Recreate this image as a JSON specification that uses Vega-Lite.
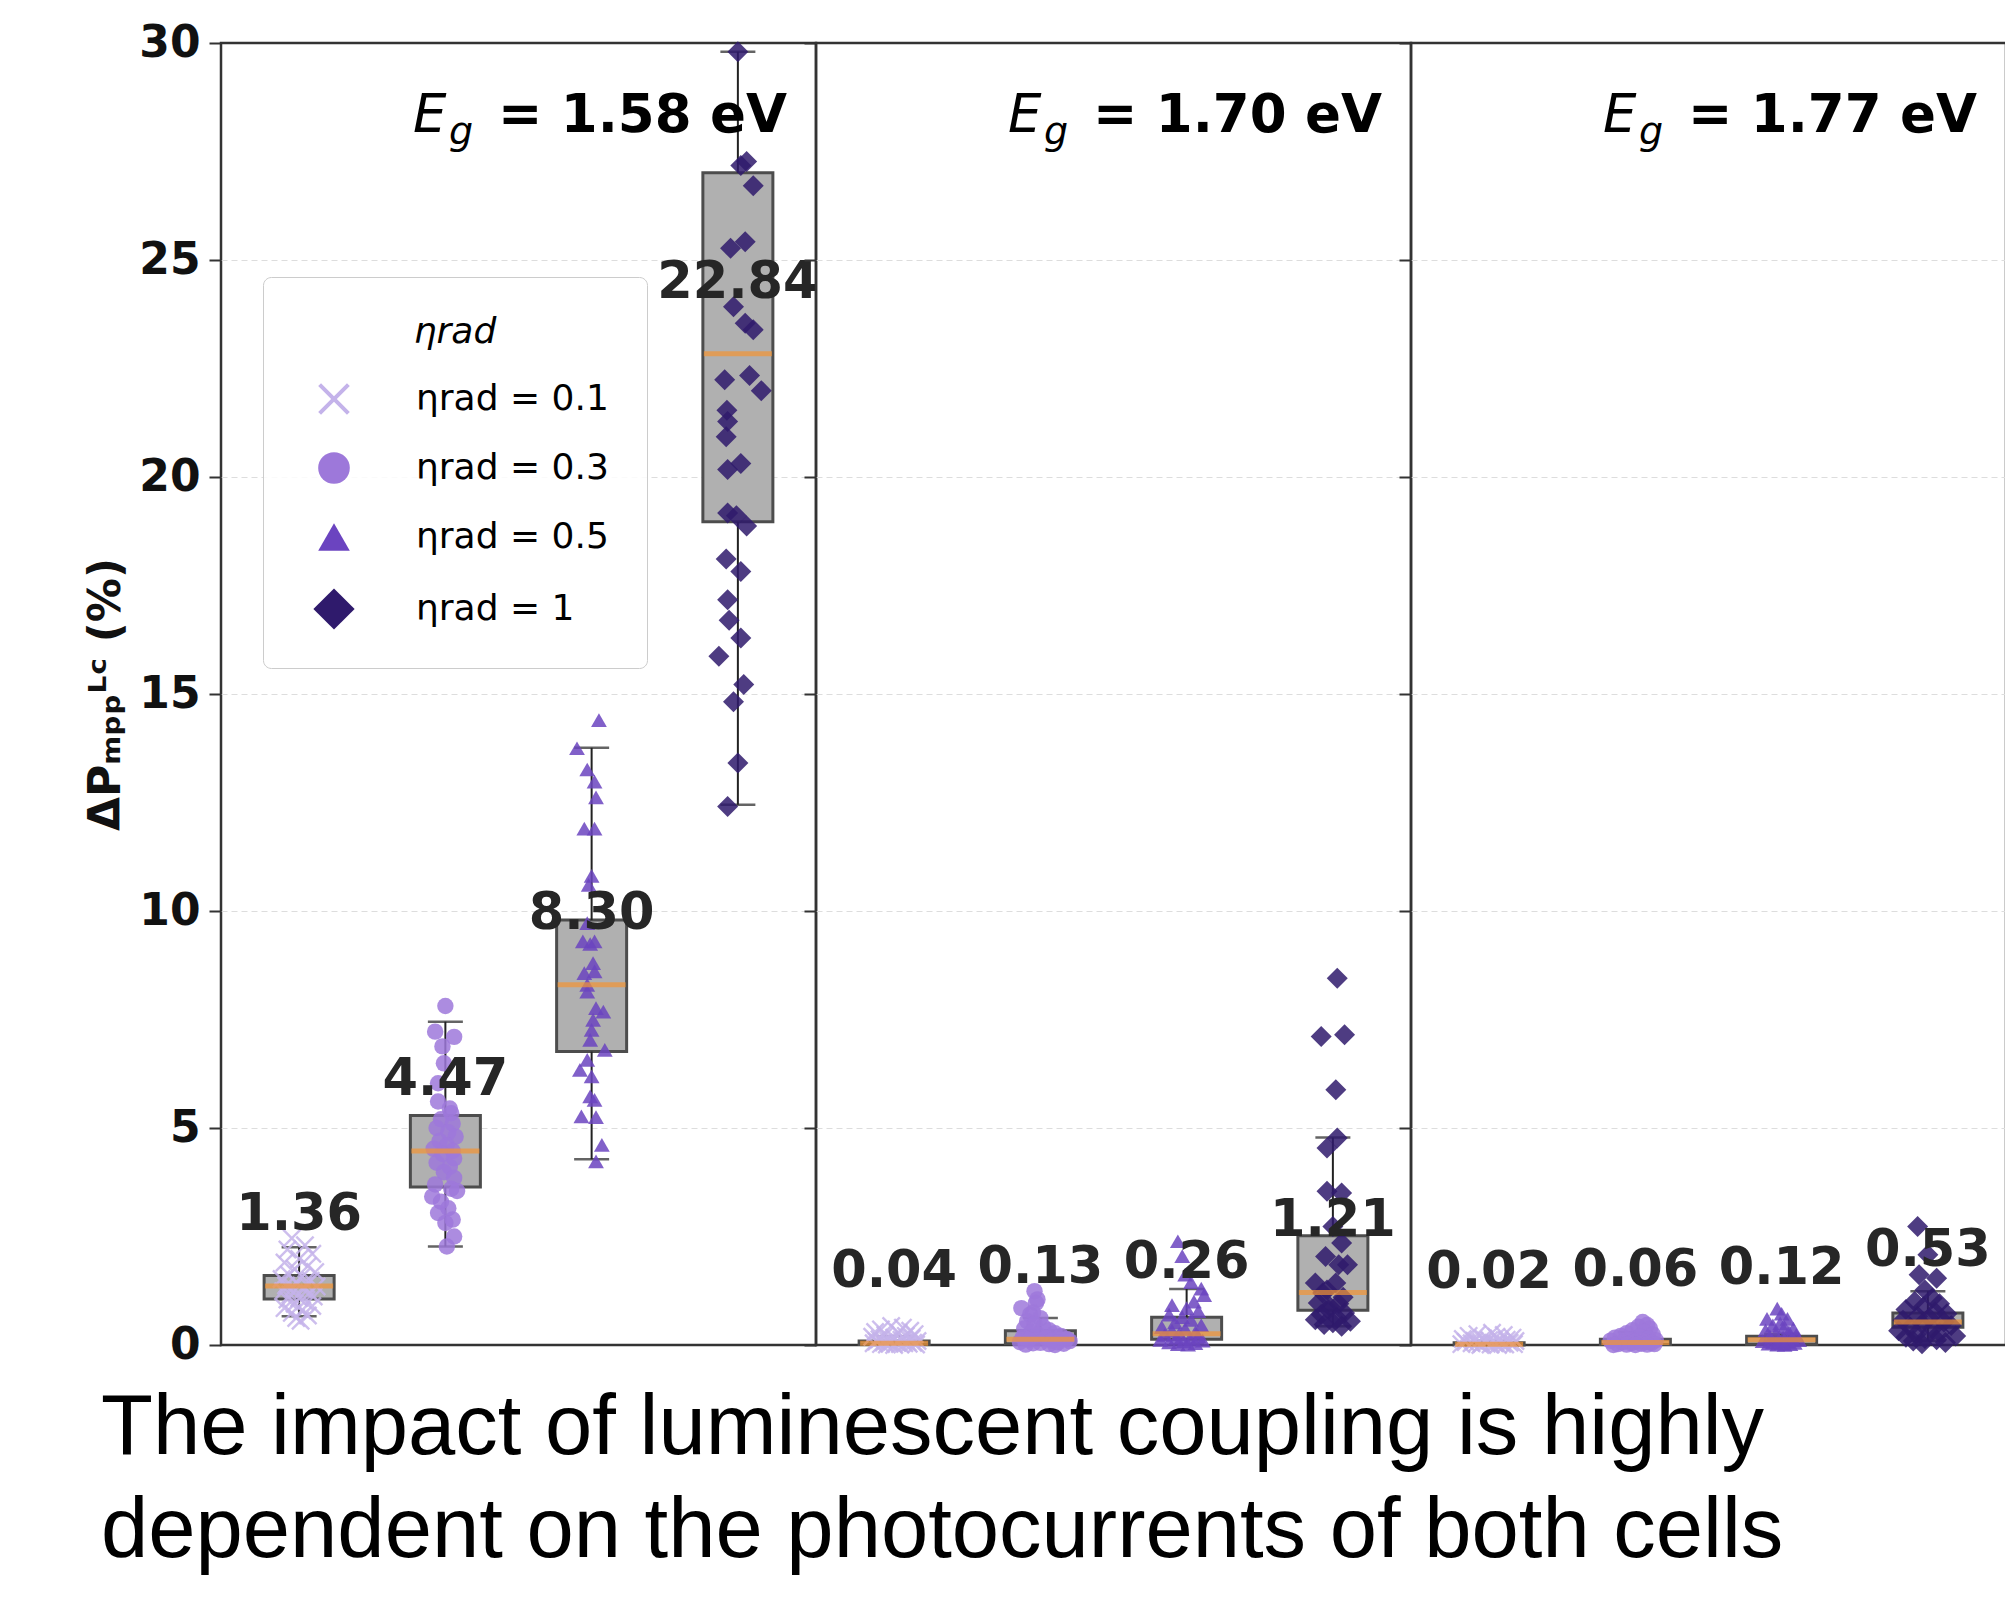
{
  "$schema": "https://vega.github.io/schema/vega-lite/v6.json",
  "background": "white",
  "padding": {"left": 83, "top": 19, "right": 0, "bottom": 0},
  "bounds": "flush",
  "spacing": 0,
  "title": {
    "text": ["The impact of luminescent coupling is highly", "dependent on the photocurrents of both cells"],
    "orient": "bottom", "anchor": "start", "frame": "group",
    "font": "Liberation Sans", "fontSize": 85, "fontWeight": "normal", "color": "#000000",
    "lineHeight": 103, "dx": -120, "offset": 19, "baseline": "top"
  },
  "datasets": {
    "panels": [
      {"Eg": "1.58", "txt": "= 1.58 eV"},
      {"Eg": "1.70", "txt": "= 1.70 eV"},
      {"Eg": "1.77", "txt": "= 1.77 eV"}
    ],
    "boxes": [
      {"Eg": "1.58", "idx": 0, "lo": 0.66, "q1": 1.06, "med": 1.36, "q3": 1.60, "hi": 2.25},
      {"Eg": "1.58", "idx": 1, "lo": 2.27, "q1": 3.64, "med": 4.47, "q3": 5.29, "hi": 7.45},
      {"Eg": "1.58", "idx": 2, "lo": 4.28, "q1": 6.76, "med": 8.30, "q3": 9.79, "hi": 13.76},
      {"Eg": "1.58", "idx": 3, "lo": 12.45, "q1": 18.97, "med": 22.84, "q3": 27.01, "hi": 29.8},
      {"Eg": "1.70", "idx": 0, "lo": 0.0, "q1": 0.01, "med": 0.04, "q3": 0.09, "hi": 0.2},
      {"Eg": "1.70", "idx": 1, "lo": 0.0, "q1": 0.03, "med": 0.13, "q3": 0.33, "hi": 0.62},
      {"Eg": "1.70", "idx": 2, "lo": 0.01, "q1": 0.13, "med": 0.26, "q3": 0.64, "hi": 1.29},
      {"Eg": "1.70", "idx": 3, "lo": 0.43, "q1": 0.80, "med": 1.21, "q3": 2.52, "hi": 4.78},
      {"Eg": "1.77", "idx": 0, "lo": 0.0, "q1": 0.0, "med": 0.02, "q3": 0.05, "hi": 0.1},
      {"Eg": "1.77", "idx": 1, "lo": 0.0, "q1": 0.01, "med": 0.06, "q3": 0.13, "hi": 0.3},
      {"Eg": "1.77", "idx": 2, "lo": 0.0, "q1": 0.02, "med": 0.12, "q3": 0.2, "hi": 0.26},
      {"Eg": "1.77", "idx": 3, "lo": 0.1, "q1": 0.41, "med": 0.53, "q3": 0.74, "hi": 1.24}
    ],
    "pts": [
      {"Eg":"1.58","eta":"0.1","pos":-0.05,"val":2.46},{"Eg":"1.58","eta":"0.1","pos":0.04,"val":2.30},{"Eg":"1.58","eta":"0.1","pos":-0.08,"val":2.20},{"Eg":"1.58","eta":"0.1","pos":0.09,"val":2.10},{"Eg":"1.58","eta":"0.1","pos":0.0,"val":1.98},{"Eg":"1.58","eta":"0.1","pos":-0.10,"val":1.90},{"Eg":"1.58","eta":"0.1","pos":0.06,"val":1.82},{"Eg":"1.58","eta":"0.1","pos":-0.03,"val":1.75},{"Eg":"1.58","eta":"0.1","pos":0.11,"val":1.68},{"Eg":"1.58","eta":"0.1","pos":-0.07,"val":1.62},{"Eg":"1.58","eta":"0.1","pos":0.02,"val":1.58},{"Eg":"1.58","eta":"0.1","pos":-0.12,"val":1.52},{"Eg":"1.58","eta":"0.1","pos":0.08,"val":1.48},{"Eg":"1.58","eta":"0.1","pos":-0.02,"val":1.44},{"Eg":"1.58","eta":"0.1","pos":0.05,"val":1.40},{"Eg":"1.58","eta":"0.1","pos":-0.09,"val":1.37},{"Eg":"1.58","eta":"0.1","pos":0.12,"val":1.35},{"Eg":"1.58","eta":"0.1","pos":-0.04,"val":1.32},{"Eg":"1.58","eta":"0.1","pos":0.03,"val":1.28},{"Eg":"1.58","eta":"0.1","pos":-0.11,"val":1.24},{"Eg":"1.58","eta":"0.1","pos":0.07,"val":1.20},{"Eg":"1.58","eta":"0.1","pos":-0.06,"val":1.16},{"Eg":"1.58","eta":"0.1","pos":0.10,"val":1.12},{"Eg":"1.58","eta":"0.1","pos":0.0,"val":1.08},{"Eg":"1.58","eta":"0.1","pos":-0.08,"val":1.05},{"Eg":"1.58","eta":"0.1","pos":0.04,"val":1.00},{"Eg":"1.58","eta":"0.1","pos":-0.03,"val":0.95},{"Eg":"1.58","eta":"0.1","pos":0.09,"val":0.90},{"Eg":"1.58","eta":"0.1","pos":-0.10,"val":0.85},{"Eg":"1.58","eta":"0.1","pos":0.02,"val":0.80},{"Eg":"1.58","eta":"0.1","pos":-0.05,"val":0.74},{"Eg":"1.58","eta":"0.1","pos":0.06,"val":0.68},{"Eg":"1.58","eta":"0.1","pos":-0.02,"val":0.62},{"Eg":"1.58","eta":"0.1","pos":0.01,"val":0.56},
      {"Eg":"1.58","eta":"0.3","pos":1.0,"val":7.81},{"Eg":"1.58","eta":"0.3","pos":0.93,"val":7.22},{"Eg":"1.58","eta":"0.3","pos":1.06,"val":7.10},{"Eg":"1.58","eta":"0.3","pos":0.98,"val":6.88},{"Eg":"1.58","eta":"0.3","pos":0.99,"val":6.49},{"Eg":"1.58","eta":"0.3","pos":0.95,"val":6.03},{"Eg":"1.58","eta":"0.3","pos":0.95,"val":5.61},{"Eg":"1.58","eta":"0.3","pos":1.03,"val":5.45},{"Eg":"1.58","eta":"0.3","pos":1.04,"val":5.34},{"Eg":"1.58","eta":"0.3","pos":0.97,"val":5.20},{"Eg":"1.58","eta":"0.3","pos":1.05,"val":5.10},{"Eg":"1.58","eta":"0.3","pos":0.94,"val":5.00},{"Eg":"1.58","eta":"0.3","pos":1.02,"val":4.90},{"Eg":"1.58","eta":"0.3","pos":1.07,"val":4.80},{"Eg":"1.58","eta":"0.3","pos":0.96,"val":4.70},{"Eg":"1.58","eta":"0.3","pos":1.01,"val":4.60},{"Eg":"1.58","eta":"0.3","pos":0.92,"val":4.52},{"Eg":"1.58","eta":"0.3","pos":1.05,"val":4.47},{"Eg":"1.58","eta":"0.3","pos":0.98,"val":4.40},{"Eg":"1.58","eta":"0.3","pos":1.06,"val":4.30},{"Eg":"1.58","eta":"0.3","pos":0.94,"val":4.20},{"Eg":"1.58","eta":"0.3","pos":1.03,"val":4.10},{"Eg":"1.58","eta":"0.3","pos":0.99,"val":3.98},{"Eg":"1.58","eta":"0.3","pos":1.06,"val":3.85},{"Eg":"1.58","eta":"0.3","pos":0.93,"val":3.70},{"Eg":"1.58","eta":"0.3","pos":1.04,"val":3.60},{"Eg":"1.58","eta":"0.3","pos":1.08,"val":3.55},{"Eg":"1.58","eta":"0.3","pos":0.91,"val":3.42},{"Eg":"1.58","eta":"0.3","pos":0.97,"val":3.30},{"Eg":"1.58","eta":"0.3","pos":1.02,"val":3.15},{"Eg":"1.58","eta":"0.3","pos":0.95,"val":3.04},{"Eg":"1.58","eta":"0.3","pos":1.05,"val":2.89},{"Eg":"1.58","eta":"0.3","pos":1.0,"val":2.81},{"Eg":"1.58","eta":"0.3","pos":1.06,"val":2.50},{"Eg":"1.58","eta":"0.3","pos":1.01,"val":2.27},
      {"Eg":"1.58","eta":"0.5","pos":2.05,"val":14.40},{"Eg":"1.58","eta":"0.5","pos":1.90,"val":13.75},{"Eg":"1.58","eta":"0.5","pos":1.97,"val":13.26},{"Eg":"1.58","eta":"0.5","pos":2.02,"val":12.98},{"Eg":"1.58","eta":"0.5","pos":2.03,"val":12.62},{"Eg":"1.58","eta":"0.5","pos":1.95,"val":11.90},{"Eg":"1.58","eta":"0.5","pos":2.02,"val":11.90},{"Eg":"1.58","eta":"0.5","pos":2.0,"val":10.81},{"Eg":"1.58","eta":"0.5","pos":1.98,"val":10.60},{"Eg":"1.58","eta":"0.5","pos":1.97,"val":9.72},{"Eg":"1.58","eta":"0.5","pos":1.94,"val":9.30},{"Eg":"1.58","eta":"0.5","pos":2.02,"val":9.30},{"Eg":"1.58","eta":"0.5","pos":1.99,"val":9.24},{"Eg":"1.58","eta":"0.5","pos":2.01,"val":8.80},{"Eg":"1.58","eta":"0.5","pos":1.95,"val":8.57},{"Eg":"1.58","eta":"0.5","pos":2.02,"val":8.61},{"Eg":"1.58","eta":"0.5","pos":1.97,"val":8.30},{"Eg":"1.58","eta":"0.5","pos":1.97,"val":8.14},{"Eg":"1.58","eta":"0.5","pos":2.03,"val":7.76},{"Eg":"1.58","eta":"0.5","pos":2.08,"val":7.68},{"Eg":"1.58","eta":"0.5","pos":2.01,"val":7.49},{"Eg":"1.58","eta":"0.5","pos":2.0,"val":7.26},{"Eg":"1.58","eta":"0.5","pos":1.99,"val":7.03},{"Eg":"1.58","eta":"0.5","pos":2.09,"val":6.80},{"Eg":"1.58","eta":"0.5","pos":1.97,"val":6.57},{"Eg":"1.58","eta":"0.5","pos":1.92,"val":6.34},{"Eg":"1.58","eta":"0.5","pos":2.0,"val":6.19},{"Eg":"1.58","eta":"0.5","pos":1.99,"val":5.73},{"Eg":"1.58","eta":"0.5","pos":2.02,"val":5.65},{"Eg":"1.58","eta":"0.5","pos":1.93,"val":5.27},{"Eg":"1.58","eta":"0.5","pos":2.03,"val":5.25},{"Eg":"1.58","eta":"0.5","pos":2.07,"val":4.61},{"Eg":"1.58","eta":"0.5","pos":2.03,"val":4.23},
      {"Eg":"1.58","eta":"1","pos":3.0,"val":29.8},{"Eg":"1.58","eta":"1","pos":3.02,"val":27.18},{"Eg":"1.58","eta":"1","pos":3.06,"val":27.27},{"Eg":"1.58","eta":"1","pos":3.105,"val":26.71},{"Eg":"1.58","eta":"1","pos":2.95,"val":25.27},{"Eg":"1.58","eta":"1","pos":3.05,"val":25.42},{"Eg":"1.58","eta":"1","pos":2.97,"val":23.92},{"Eg":"1.58","eta":"1","pos":3.05,"val":23.54},{"Eg":"1.58","eta":"1","pos":3.105,"val":23.39},{"Eg":"1.58","eta":"1","pos":2.91,"val":22.24},{"Eg":"1.58","eta":"1","pos":3.08,"val":22.34},{"Eg":"1.58","eta":"1","pos":3.16,"val":21.99},{"Eg":"1.58","eta":"1","pos":2.925,"val":21.54},{"Eg":"1.58","eta":"1","pos":2.93,"val":21.28},{"Eg":"1.58","eta":"1","pos":2.92,"val":20.93},{"Eg":"1.58","eta":"1","pos":2.93,"val":20.17},{"Eg":"1.58","eta":"1","pos":3.02,"val":20.31},{"Eg":"1.58","eta":"1","pos":2.93,"val":19.17},{"Eg":"1.58","eta":"1","pos":2.99,"val":19.11},{"Eg":"1.58","eta":"1","pos":3.06,"val":18.87},{"Eg":"1.58","eta":"1","pos":2.92,"val":18.11},{"Eg":"1.58","eta":"1","pos":3.02,"val":17.82},{"Eg":"1.58","eta":"1","pos":2.93,"val":17.17},{"Eg":"1.58","eta":"1","pos":2.94,"val":16.70},{"Eg":"1.58","eta":"1","pos":3.02,"val":16.29},{"Eg":"1.58","eta":"1","pos":2.87,"val":15.87},{"Eg":"1.58","eta":"1","pos":3.04,"val":15.22},{"Eg":"1.58","eta":"1","pos":2.97,"val":14.82},{"Eg":"1.58","eta":"1","pos":3.0,"val":13.41},{"Eg":"1.58","eta":"1","pos":2.93,"val":12.41},
      {"Eg":"1.70","eta":"0.1","pos":-0.02,"val":0.44},{"Eg":"1.70","eta":"0.1","pos":0.06,"val":0.40},{"Eg":"1.70","eta":"0.1","pos":-0.09,"val":0.36},{"Eg":"1.70","eta":"0.1","pos":0.11,"val":0.33},{"Eg":"1.70","eta":"0.1","pos":-0.13,"val":0.30},{"Eg":"1.70","eta":"0.1","pos":0.03,"val":0.28},{"Eg":"1.70","eta":"0.1","pos":0.14,"val":0.25},{"Eg":"1.70","eta":"0.1","pos":-0.06,"val":0.23},{"Eg":"1.70","eta":"0.1","pos":0.08,"val":0.21},{"Eg":"1.70","eta":"0.1","pos":-0.15,"val":0.19},{"Eg":"1.70","eta":"0.1","pos":0.0,"val":0.17},{"Eg":"1.70","eta":"0.1","pos":0.12,"val":0.15},{"Eg":"1.70","eta":"0.1","pos":-0.10,"val":0.13},{"Eg":"1.70","eta":"0.1","pos":0.05,"val":0.12},{"Eg":"1.70","eta":"0.1","pos":-0.04,"val":0.10},{"Eg":"1.70","eta":"0.1","pos":0.16,"val":0.09},{"Eg":"1.70","eta":"0.1","pos":-0.12,"val":0.08},{"Eg":"1.70","eta":"0.1","pos":0.09,"val":0.07},{"Eg":"1.70","eta":"0.1","pos":-0.07,"val":0.06},{"Eg":"1.70","eta":"0.1","pos":0.02,"val":0.05},{"Eg":"1.70","eta":"0.1","pos":0.13,"val":0.05},{"Eg":"1.70","eta":"0.1","pos":-0.14,"val":0.04},{"Eg":"1.70","eta":"0.1","pos":0.07,"val":0.04},{"Eg":"1.70","eta":"0.1","pos":-0.03,"val":0.03},{"Eg":"1.70","eta":"0.1","pos":0.10,"val":0.03},{"Eg":"1.70","eta":"0.1","pos":-0.09,"val":0.02},{"Eg":"1.70","eta":"0.1","pos":0.04,"val":0.02},{"Eg":"1.70","eta":"0.1","pos":-0.05,"val":0.01},{"Eg":"1.70","eta":"0.1","pos":0.15,"val":0.01},{"Eg":"1.70","eta":"0.1","pos":0.0,"val":0.0},
      {"Eg":"1.70","eta":"0.3","pos":0.96,"val":1.24},{"Eg":"1.70","eta":"0.3","pos":0.98,"val":1.05},{"Eg":"1.70","eta":"0.3","pos":0.97,"val":0.97},{"Eg":"1.70","eta":"0.3","pos":0.87,"val":0.85},{"Eg":"1.70","eta":"0.3","pos":0.95,"val":0.75},{"Eg":"1.70","eta":"0.3","pos":0.93,"val":0.70},{"Eg":"1.70","eta":"0.3","pos":1.0,"val":0.62},{"Eg":"1.70","eta":"0.3","pos":0.91,"val":0.55},{"Eg":"1.70","eta":"0.3","pos":0.96,"val":0.48},{"Eg":"1.70","eta":"0.3","pos":1.02,"val":0.42},{"Eg":"1.70","eta":"0.3","pos":0.89,"val":0.38},{"Eg":"1.70","eta":"0.3","pos":1.06,"val":0.34},{"Eg":"1.70","eta":"0.3","pos":0.94,"val":0.30},{"Eg":"1.70","eta":"0.3","pos":1.10,"val":0.27},{"Eg":"1.70","eta":"0.3","pos":0.98,"val":0.24},{"Eg":"1.70","eta":"0.3","pos":1.14,"val":0.21},{"Eg":"1.70","eta":"0.3","pos":0.88,"val":0.18},{"Eg":"1.70","eta":"0.3","pos":1.04,"val":0.16},{"Eg":"1.70","eta":"0.3","pos":1.18,"val":0.14},{"Eg":"1.70","eta":"0.3","pos":0.92,"val":0.12},{"Eg":"1.70","eta":"0.3","pos":1.08,"val":0.10},{"Eg":"1.70","eta":"0.3","pos":1.20,"val":0.09},{"Eg":"1.70","eta":"0.3","pos":0.86,"val":0.07},{"Eg":"1.70","eta":"0.3","pos":1.12,"val":0.06},{"Eg":"1.70","eta":"0.3","pos":1.0,"val":0.05},{"Eg":"1.70","eta":"0.3","pos":0.95,"val":0.04},{"Eg":"1.70","eta":"0.3","pos":1.16,"val":0.03},{"Eg":"1.70","eta":"0.3","pos":1.06,"val":0.02},{"Eg":"1.70","eta":"0.3","pos":0.90,"val":0.01},{"Eg":"1.70","eta":"0.3","pos":1.10,"val":0.0},
      {"Eg":"1.70","eta":"0.5","pos":1.94,"val":2.39},{"Eg":"1.70","eta":"0.5","pos":1.97,"val":2.05},{"Eg":"1.70","eta":"0.5","pos":1.99,"val":1.62},{"Eg":"1.70","eta":"0.5","pos":2.03,"val":1.45},{"Eg":"1.70","eta":"0.5","pos":2.10,"val":1.30},{"Eg":"1.70","eta":"0.5","pos":2.12,"val":1.15},{"Eg":"1.70","eta":"0.5","pos":2.05,"val":1.00},{"Eg":"1.70","eta":"0.5","pos":1.90,"val":0.92},{"Eg":"1.70","eta":"0.5","pos":2.0,"val":0.85},{"Eg":"1.70","eta":"0.5","pos":2.08,"val":0.78},{"Eg":"1.70","eta":"0.5","pos":1.88,"val":0.70},{"Eg":"1.70","eta":"0.5","pos":1.97,"val":0.64},{"Eg":"1.70","eta":"0.5","pos":2.03,"val":0.58},{"Eg":"1.70","eta":"0.5","pos":1.92,"val":0.52},{"Eg":"1.70","eta":"0.5","pos":2.10,"val":0.46},{"Eg":"1.70","eta":"0.5","pos":1.83,"val":0.41},{"Eg":"1.70","eta":"0.5","pos":1.99,"val":0.37},{"Eg":"1.70","eta":"0.5","pos":1.90,"val":0.33},{"Eg":"1.70","eta":"0.5","pos":2.06,"val":0.29},{"Eg":"1.70","eta":"0.5","pos":1.95,"val":0.26},{"Eg":"1.70","eta":"0.5","pos":1.85,"val":0.23},{"Eg":"1.70","eta":"0.5","pos":2.08,"val":0.20},{"Eg":"1.70","eta":"0.5","pos":1.93,"val":0.17},{"Eg":"1.70","eta":"0.5","pos":2.02,"val":0.14},{"Eg":"1.70","eta":"0.5","pos":1.82,"val":0.12},{"Eg":"1.70","eta":"0.5","pos":2.11,"val":0.10},{"Eg":"1.70","eta":"0.5","pos":1.98,"val":0.08},{"Eg":"1.70","eta":"0.5","pos":1.88,"val":0.06},{"Eg":"1.70","eta":"0.5","pos":2.06,"val":0.04},{"Eg":"1.70","eta":"0.5","pos":1.94,"val":0.02},{"Eg":"1.70","eta":"0.5","pos":2.01,"val":0.01},
      {"Eg":"1.70","eta":"1","pos":3.03,"val":8.45},{"Eg":"1.70","eta":"1","pos":2.92,"val":7.11},{"Eg":"1.70","eta":"1","pos":3.08,"val":7.15},{"Eg":"1.70","eta":"1","pos":3.02,"val":5.88},{"Eg":"1.70","eta":"1","pos":3.03,"val":4.77},{"Eg":"1.70","eta":"1","pos":2.96,"val":4.54},{"Eg":"1.70","eta":"1","pos":2.96,"val":3.54},{"Eg":"1.70","eta":"1","pos":3.06,"val":3.50},{"Eg":"1.70","eta":"1","pos":3.0,"val":2.73},{"Eg":"1.70","eta":"1","pos":3.06,"val":2.35},{"Eg":"1.70","eta":"1","pos":2.95,"val":2.04},{"Eg":"1.70","eta":"1","pos":3.04,"val":1.85},{"Eg":"1.70","eta":"1","pos":3.10,"val":1.85},{"Eg":"1.70","eta":"1","pos":2.88,"val":1.43},{"Eg":"1.70","eta":"1","pos":3.02,"val":1.43},{"Eg":"1.70","eta":"1","pos":2.96,"val":1.27},{"Eg":"1.70","eta":"1","pos":2.93,"val":1.20},{"Eg":"1.70","eta":"1","pos":3.07,"val":1.10},{"Eg":"1.70","eta":"1","pos":2.90,"val":0.97},{"Eg":"1.70","eta":"1","pos":3.04,"val":0.95},{"Eg":"1.70","eta":"1","pos":2.98,"val":0.88},{"Eg":"1.70","eta":"1","pos":2.97,"val":0.81},{"Eg":"1.70","eta":"1","pos":3.08,"val":0.74},{"Eg":"1.70","eta":"1","pos":2.92,"val":0.70},{"Eg":"1.70","eta":"1","pos":3.03,"val":0.62},{"Eg":"1.70","eta":"1","pos":2.88,"val":0.58},{"Eg":"1.70","eta":"1","pos":3.12,"val":0.55},{"Eg":"1.70","eta":"1","pos":3.0,"val":0.51},{"Eg":"1.70","eta":"1","pos":2.94,"val":0.47},{"Eg":"1.70","eta":"1","pos":3.06,"val":0.43},
      {"Eg":"1.77","eta":"0.1","pos":0.02,"val":0.28},{"Eg":"1.77","eta":"0.1","pos":-0.08,"val":0.25},{"Eg":"1.77","eta":"0.1","pos":0.10,"val":0.23},{"Eg":"1.77","eta":"0.1","pos":-0.14,"val":0.21},{"Eg":"1.77","eta":"0.1","pos":0.05,"val":0.19},{"Eg":"1.77","eta":"0.1","pos":0.16,"val":0.17},{"Eg":"1.77","eta":"0.1","pos":-0.04,"val":0.15},{"Eg":"1.77","eta":"0.1","pos":-0.18,"val":0.14},{"Eg":"1.77","eta":"0.1","pos":0.12,"val":0.12},{"Eg":"1.77","eta":"0.1","pos":0.0,"val":0.11},{"Eg":"1.77","eta":"0.1","pos":-0.10,"val":0.10},{"Eg":"1.77","eta":"0.1","pos":0.18,"val":0.09},{"Eg":"1.77","eta":"0.1","pos":0.07,"val":0.08},{"Eg":"1.77","eta":"0.1","pos":-0.16,"val":0.07},{"Eg":"1.77","eta":"0.1","pos":-0.02,"val":0.06},{"Eg":"1.77","eta":"0.1","pos":0.14,"val":0.05},{"Eg":"1.77","eta":"0.1","pos":-0.08,"val":0.05},{"Eg":"1.77","eta":"0.1","pos":0.04,"val":0.04},{"Eg":"1.77","eta":"0.1","pos":-0.12,"val":0.04},{"Eg":"1.77","eta":"0.1","pos":0.09,"val":0.03},{"Eg":"1.77","eta":"0.1","pos":-0.05,"val":0.03},{"Eg":"1.77","eta":"0.1","pos":0.17,"val":0.02},{"Eg":"1.77","eta":"0.1","pos":-0.19,"val":0.02},{"Eg":"1.77","eta":"0.1","pos":0.01,"val":0.01},{"Eg":"1.77","eta":"0.1","pos":0.11,"val":0.01},{"Eg":"1.77","eta":"0.1","pos":-0.06,"val":0.0},{"Eg":"1.77","eta":"0.1","pos":0.06,"val":0.0},
      {"Eg":"1.77","eta":"0.3","pos":1.05,"val":0.53},{"Eg":"1.77","eta":"0.3","pos":1.08,"val":0.46},{"Eg":"1.77","eta":"0.3","pos":1.02,"val":0.42},{"Eg":"1.77","eta":"0.3","pos":1.10,"val":0.38},{"Eg":"1.77","eta":"0.3","pos":0.98,"val":0.34},{"Eg":"1.77","eta":"0.3","pos":1.06,"val":0.30},{"Eg":"1.77","eta":"0.3","pos":0.94,"val":0.27},{"Eg":"1.77","eta":"0.3","pos":1.12,"val":0.24},{"Eg":"1.77","eta":"0.3","pos":0.90,"val":0.21},{"Eg":"1.77","eta":"0.3","pos":1.03,"val":0.19},{"Eg":"1.77","eta":"0.3","pos":0.86,"val":0.17},{"Eg":"1.77","eta":"0.3","pos":1.09,"val":0.15},{"Eg":"1.77","eta":"0.3","pos":0.96,"val":0.13},{"Eg":"1.77","eta":"0.3","pos":1.14,"val":0.11},{"Eg":"1.77","eta":"0.3","pos":0.83,"val":0.10},{"Eg":"1.77","eta":"0.3","pos":1.0,"val":0.08},{"Eg":"1.77","eta":"0.3","pos":1.07,"val":0.07},{"Eg":"1.77","eta":"0.3","pos":0.91,"val":0.06},{"Eg":"1.77","eta":"0.3","pos":1.11,"val":0.05},{"Eg":"1.77","eta":"0.3","pos":0.97,"val":0.04},{"Eg":"1.77","eta":"0.3","pos":1.04,"val":0.03},{"Eg":"1.77","eta":"0.3","pos":0.88,"val":0.02},{"Eg":"1.77","eta":"0.3","pos":1.13,"val":0.02},{"Eg":"1.77","eta":"0.3","pos":0.94,"val":0.01},{"Eg":"1.77","eta":"0.3","pos":1.08,"val":0.01},{"Eg":"1.77","eta":"0.3","pos":1.0,"val":0.0},{"Eg":"1.77","eta":"0.3","pos":0.85,"val":0.0},
      {"Eg":"1.77","eta":"0.5","pos":1.97,"val":0.84},{"Eg":"1.77","eta":"0.5","pos":2.0,"val":0.72},{"Eg":"1.77","eta":"0.5","pos":1.90,"val":0.60},{"Eg":"1.77","eta":"0.5","pos":2.04,"val":0.60},{"Eg":"1.77","eta":"0.5","pos":1.99,"val":0.50},{"Eg":"1.77","eta":"0.5","pos":1.94,"val":0.45},{"Eg":"1.77","eta":"0.5","pos":2.02,"val":0.41},{"Eg":"1.77","eta":"0.5","pos":2.08,"val":0.38},{"Eg":"1.77","eta":"0.5","pos":1.89,"val":0.34},{"Eg":"1.77","eta":"0.5","pos":2.05,"val":0.30},{"Eg":"1.77","eta":"0.5","pos":1.96,"val":0.26},{"Eg":"1.77","eta":"0.5","pos":2.10,"val":0.23},{"Eg":"1.77","eta":"0.5","pos":1.92,"val":0.20},{"Eg":"1.77","eta":"0.5","pos":2.01,"val":0.17},{"Eg":"1.77","eta":"0.5","pos":2.07,"val":0.15},{"Eg":"1.77","eta":"0.5","pos":1.98,"val":0.12},{"Eg":"1.77","eta":"0.5","pos":2.12,"val":0.11},{"Eg":"1.77","eta":"0.5","pos":1.87,"val":0.09},{"Eg":"1.77","eta":"0.5","pos":2.04,"val":0.08},{"Eg":"1.77","eta":"0.5","pos":1.94,"val":0.06},{"Eg":"1.77","eta":"0.5","pos":2.09,"val":0.05},{"Eg":"1.77","eta":"0.5","pos":2.0,"val":0.04},{"Eg":"1.77","eta":"0.5","pos":1.91,"val":0.03},{"Eg":"1.77","eta":"0.5","pos":2.06,"val":0.02},{"Eg":"1.77","eta":"0.5","pos":1.97,"val":0.01},{"Eg":"1.77","eta":"0.5","pos":2.02,"val":0.0},
      {"Eg":"1.77","eta":"1","pos":2.93,"val":2.73},{"Eg":"1.77","eta":"1","pos":3.0,"val":2.08},{"Eg":"1.77","eta":"1","pos":2.94,"val":1.62},{"Eg":"1.77","eta":"1","pos":3.06,"val":1.54},{"Eg":"1.77","eta":"1","pos":2.98,"val":1.27},{"Eg":"1.77","eta":"1","pos":3.03,"val":1.08},{"Eg":"1.77","eta":"1","pos":2.91,"val":1.00},{"Eg":"1.77","eta":"1","pos":3.08,"val":0.95},{"Eg":"1.77","eta":"1","pos":2.97,"val":0.88},{"Eg":"1.77","eta":"1","pos":2.85,"val":0.82},{"Eg":"1.77","eta":"1","pos":3.05,"val":0.76},{"Eg":"1.77","eta":"1","pos":3.13,"val":0.72},{"Eg":"1.77","eta":"1","pos":2.93,"val":0.66},{"Eg":"1.77","eta":"1","pos":3.01,"val":0.62},{"Eg":"1.77","eta":"1","pos":2.83,"val":0.57},{"Eg":"1.77","eta":"1","pos":3.11,"val":0.53},{"Eg":"1.77","eta":"1","pos":2.96,"val":0.49},{"Eg":"1.77","eta":"1","pos":3.16,"val":0.45},{"Eg":"1.77","eta":"1","pos":2.88,"val":0.41},{"Eg":"1.77","eta":"1","pos":3.03,"val":0.37},{"Eg":"1.77","eta":"1","pos":2.80,"val":0.33},{"Eg":"1.77","eta":"1","pos":3.08,"val":0.29},{"Eg":"1.77","eta":"1","pos":2.92,"val":0.25},{"Eg":"1.77","eta":"1","pos":3.19,"val":0.21},{"Eg":"1.77","eta":"1","pos":2.85,"val":0.18},{"Eg":"1.77","eta":"1","pos":2.98,"val":0.15},{"Eg":"1.77","eta":"1","pos":3.06,"val":0.12},{"Eg":"1.77","eta":"1","pos":2.90,"val":0.09},{"Eg":"1.77","eta":"1","pos":3.12,"val":0.06},{"Eg":"1.77","eta":"1","pos":2.96,"val":0.03}
    ]
  },
  "resolve": {"scale": {"y": "shared", "color": "shared", "shape": "shared"}},
  "hconcat": [
    {
      "width": 595, "height": 1302,
      "layer": [
        {"data": {"name": "boxes"}, "transform": [{"filter": {"field": "Eg", "equal": "1.58"}}],
         "mark": {"type": "bar", "width": 70, "fill": "#b0b0b0", "stroke": "#4d4d4d", "strokeWidth": 3},
         "encoding": {
           "x": {"field": "idx", "type": "quantitative", "scale": {"domain": [-0.5, 3.5], "nice": false, "zero": false}, "axis": null},
           "y": {"field": "q1", "type": "quantitative", "scale": {"domain": [0, 30], "nice": false},
                 "axis": {"title": "ΔPₘₚₚᴸᶜ (%)", "values": [0, 5, 10, 15, 20, 25, 30], "grid": true, "gridOpacity": {"condition": {"test": "datum.value === 0 || datum.value === 30", "value": 0}, "value": 1}, "titleFontSize": 44, "titleFontWeight": "bold", "titlePadding": 10, "titleColor": "#111111", "titleFont": "DejaVu Sans"}},
           "y2": {"field": "q3"}
         }},
        {"data": {"name": "boxes"}, "transform": [{"filter": {"field": "Eg", "equal": "1.58"}}],
         "mark": {"type": "rule", "strokeWidth": 2, "color": "#222222"},
         "encoding": {"x": {"field": "idx", "type": "quantitative", "axis": null}, "y": {"field": "lo", "type": "quantitative"}, "y2": {"field": "q1"}}},
        {"data": {"name": "boxes"}, "transform": [{"filter": {"field": "Eg", "equal": "1.58"}}],
         "mark": {"type": "rule", "strokeWidth": 2, "color": "#222222"},
         "encoding": {"x": {"field": "idx", "type": "quantitative", "axis": null}, "y": {"field": "q3", "type": "quantitative"}, "y2": {"field": "hi"}}},
        {"data": {"name": "boxes"}, "transform": [{"filter": {"field": "Eg", "equal": "1.58"}}],
         "mark": {"type": "tick", "orient": "horizontal", "size": 35, "thickness": 2.5, "color": "#222222"},
         "encoding": {"x": {"field": "idx", "type": "quantitative", "axis": null}, "y": {"field": "lo", "type": "quantitative"}}},
        {"data": {"name": "boxes"}, "transform": [{"filter": {"field": "Eg", "equal": "1.58"}}],
         "mark": {"type": "tick", "orient": "horizontal", "size": 35, "thickness": 2.5, "color": "#222222"},
         "encoding": {"x": {"field": "idx", "type": "quantitative", "axis": null}, "y": {"field": "hi", "type": "quantitative"}}},
        {"data": {"name": "pts"}, "transform": [{"filter": {"and": [{"field": "Eg", "equal": "1.58"}, {"field": "eta", "equal": "0.1"}]}}],
         "mark": {"type": "point", "filled": true, "opacity": 0.85, "size": 360},
         "encoding": {
           "x": {"field": "pos", "type": "quantitative", "axis": null},
           "y": {"field": "val", "type": "quantitative"},
           "color": {"field": "eta", "type": "nominal", "scale": {"domain": ["0.1", "0.3", "0.5", "1"], "range": ["#c4b3ea", "#9d78da", "#6b44c0", "#2f1a6c"]},
                     "legend": {"title": "ηrad", "orient": "none", "legendX": 42, "legendY": 234, "labelExpr": "'ηrad = ' + datum.label", "encode": {"symbols": {"update": {"size": {"signal": "datum.value === '1' ? 1700 : 1000"}}}}}},
           "shape": {"field": "eta", "type": "nominal", "scale": {"domain": ["0.1", "0.3", "0.5", "1"], "range": ["M-1,-0.82L-0.82,-1L0,-0.18L0.82,-1L1,-0.82L0.18,0L1,0.82L0.82,1L0,0.18L-0.82,1L-1,0.82L-0.18,0Z", "circle", "triangle-up", "diamond"]},
                     "legend": {"title": "ηrad", "orient": "none", "legendX": 42, "legendY": 234, "labelExpr": "'ηrad = ' + datum.label", "encode": {"symbols": {"update": {"size": {"signal": "datum.value === '1' ? 1700 : 1000"}}}}}}
         }},
        {"data": {"name": "pts"}, "transform": [{"filter": {"and": [{"field": "Eg", "equal": "1.58"}, {"field": "eta", "equal": "0.3"}]}}],
         "mark": {"type": "point", "filled": true, "opacity": 0.85, "size": 270},
         "encoding": {
           "x": {"field": "pos", "type": "quantitative", "axis": null},
           "y": {"field": "val", "type": "quantitative"},
           "color": {"field": "eta", "type": "nominal", "scale": {"domain": ["0.1", "0.3", "0.5", "1"], "range": ["#c4b3ea", "#9d78da", "#6b44c0", "#2f1a6c"]},
                     "legend": {"title": "ηrad", "orient": "none", "legendX": 42, "legendY": 234, "labelExpr": "'ηrad = ' + datum.label", "encode": {"symbols": {"update": {"size": {"signal": "datum.value === '1' ? 1700 : 1000"}}}}}},
           "shape": {"field": "eta", "type": "nominal", "scale": {"domain": ["0.1", "0.3", "0.5", "1"], "range": ["M-1,-0.82L-0.82,-1L0,-0.18L0.82,-1L1,-0.82L0.18,0L1,0.82L0.82,1L0,0.18L-0.82,1L-1,0.82L-0.18,0Z", "circle", "triangle-up", "diamond"]},
                     "legend": {"title": "ηrad", "orient": "none", "legendX": 42, "legendY": 234, "labelExpr": "'ηrad = ' + datum.label", "encode": {"symbols": {"update": {"size": {"signal": "datum.value === '1' ? 1700 : 1000"}}}}}}
         }},
        {"data": {"name": "pts"}, "transform": [{"filter": {"and": [{"field": "Eg", "equal": "1.58"}, {"field": "eta", "equal": "0.5"}]}}],
         "mark": {"type": "point", "filled": true, "opacity": 0.85, "size": 250},
         "encoding": {
           "x": {"field": "pos", "type": "quantitative", "axis": null},
           "y": {"field": "val", "type": "quantitative"},
           "color": {"field": "eta", "type": "nominal", "scale": {"domain": ["0.1", "0.3", "0.5", "1"], "range": ["#c4b3ea", "#9d78da", "#6b44c0", "#2f1a6c"]},
                     "legend": {"title": "ηrad", "orient": "none", "legendX": 42, "legendY": 234, "labelExpr": "'ηrad = ' + datum.label", "encode": {"symbols": {"update": {"size": {"signal": "datum.value === '1' ? 1700 : 1000"}}}}}},
           "shape": {"field": "eta", "type": "nominal", "scale": {"domain": ["0.1", "0.3", "0.5", "1"], "range": ["M-1,-0.82L-0.82,-1L0,-0.18L0.82,-1L1,-0.82L0.18,0L1,0.82L0.82,1L0,0.18L-0.82,1L-1,0.82L-0.18,0Z", "circle", "triangle-up", "diamond"]},
                     "legend": {"title": "ηrad", "orient": "none", "legendX": 42, "legendY": 234, "labelExpr": "'ηrad = ' + datum.label", "encode": {"symbols": {"update": {"size": {"signal": "datum.value === '1' ? 1700 : 1000"}}}}}}
         }},
        {"data": {"name": "pts"}, "transform": [{"filter": {"and": [{"field": "Eg", "equal": "1.58"}, {"field": "eta", "equal": "1"}]}}],
         "mark": {"type": "point", "filled": true, "opacity": 0.85, "size": 441},
         "encoding": {
           "x": {"field": "pos", "type": "quantitative", "axis": null},
           "y": {"field": "val", "type": "quantitative"},
           "color": {"field": "eta", "type": "nominal", "scale": {"domain": ["0.1", "0.3", "0.5", "1"], "range": ["#c4b3ea", "#9d78da", "#6b44c0", "#2f1a6c"]},
                     "legend": {"title": "ηrad", "orient": "none", "legendX": 42, "legendY": 234, "labelExpr": "'ηrad = ' + datum.label", "encode": {"symbols": {"update": {"size": {"signal": "datum.value === '1' ? 1700 : 1000"}}}}}},
           "shape": {"field": "eta", "type": "nominal", "scale": {"domain": ["0.1", "0.3", "0.5", "1"], "range": ["M-1,-0.82L-0.82,-1L0,-0.18L0.82,-1L1,-0.82L0.18,0L1,0.82L0.82,1L0,0.18L-0.82,1L-1,0.82L-0.18,0Z", "circle", "triangle-up", "diamond"]},
                     "legend": {"title": "ηrad", "orient": "none", "legendX": 42, "legendY": 234, "labelExpr": "'ηrad = ' + datum.label", "encode": {"symbols": {"update": {"size": {"signal": "datum.value === '1' ? 1700 : 1000"}}}}}}
         }},
        {"data": {"name": "boxes"}, "transform": [{"filter": {"field": "Eg", "equal": "1.58"}}],
         "mark": {"type": "tick", "orient": "horizontal", "size": 68, "thickness": 5, "color": "#f39433"},
         "encoding": {"x": {"field": "idx", "type": "quantitative", "axis": null}, "y": {"field": "med", "type": "quantitative"}}},
        {"data": {"name": "boxes"}, "transform": [{"filter": {"field": "Eg", "equal": "1.58"}}],
         "mark": {"type": "text", "fontSize": 51, "fontWeight": "bold", "baseline": "alphabetic", "dy": -56, "color": "#262626", "font": "DejaVu Sans"},
         "encoding": {"x": {"field": "idx", "type": "quantitative", "axis": null}, "y": {"field": "med", "type": "quantitative"}, "text": {"field": "med", "format": ".2f"}}},
        {"data": {"name": "panels"}, "transform": [{"filter": {"field": "Eg", "equal": "1.58"}}],
         "mark": {"type": "text", "fontSize": 53, "fontWeight": "bold", "align": "right", "baseline": "alphabetic", "dx": -24, "color": "#000000", "font": "DejaVu Sans"},
         "encoding": {"x": {"datum": 3.5, "type": "quantitative", "axis": null}, "y": {"datum": 27.95, "type": "quantitative"}, "text": {"field": "txt"}}},
        {"data": {"name": "panels"}, "transform": [{"filter": {"field": "Eg", "equal": "1.58"}}],
         "mark": {"type": "text", "fontSize": 53, "fontStyle": "italic", "align": "left", "baseline": "alphabetic", "dx": -398, "color": "#000000", "font": "DejaVu Sans", "text": "E"},
         "encoding": {"x": {"datum": 3.5, "type": "quantitative", "axis": null}, "y": {"datum": 27.95, "type": "quantitative"}}},
        {"data": {"name": "panels"}, "transform": [{"filter": {"field": "Eg", "equal": "1.58"}}],
         "mark": {"type": "text", "fontSize": 38, "fontStyle": "italic", "align": "left", "baseline": "alphabetic", "dx": -362, "dy": 12, "color": "#000000", "font": "DejaVu Sans", "text": "g"},
         "encoding": {"x": {"datum": 3.5, "type": "quantitative", "axis": null}, "y": {"datum": 27.95, "type": "quantitative"}}}
      ]
    },
    {
      "width": 595, "height": 1302,
      "layer": [
        {"data": {"name": "boxes"}, "transform": [{"filter": {"field": "Eg", "equal": "1.70"}}],
         "mark": {"type": "bar", "width": 70, "fill": "#b0b0b0", "stroke": "#4d4d4d", "strokeWidth": 3},
         "encoding": {
           "x": {"field": "idx", "type": "quantitative", "scale": {"domain": [-0.5, 3.5], "nice": false, "zero": false}, "axis": null},
           "y": {"field": "q1", "type": "quantitative", "scale": {"domain": [0, 30], "nice": false},
                 "axis": {"title": null, "values": [0, 5, 10, 15, 20, 25, 30], "grid": true, "gridOpacity": {"condition": {"test": "datum.value === 0 || datum.value === 30", "value": 0}, "value": 1}, "labels": false}},
           "y2": {"field": "q3"}
         }},
        {"data": {"name": "boxes"}, "transform": [{"filter": {"field": "Eg", "equal": "1.70"}}],
         "mark": {"type": "rule", "strokeWidth": 2, "color": "#222222"},
         "encoding": {"x": {"field": "idx", "type": "quantitative", "axis": null}, "y": {"field": "lo", "type": "quantitative"}, "y2": {"field": "q1"}}},
        {"data": {"name": "boxes"}, "transform": [{"filter": {"field": "Eg", "equal": "1.70"}}],
         "mark": {"type": "rule", "strokeWidth": 2, "color": "#222222"},
         "encoding": {"x": {"field": "idx", "type": "quantitative", "axis": null}, "y": {"field": "q3", "type": "quantitative"}, "y2": {"field": "hi"}}},
        {"data": {"name": "boxes"}, "transform": [{"filter": {"field": "Eg", "equal": "1.70"}}],
         "mark": {"type": "tick", "orient": "horizontal", "size": 35, "thickness": 2.5, "color": "#222222"},
         "encoding": {"x": {"field": "idx", "type": "quantitative", "axis": null}, "y": {"field": "lo", "type": "quantitative"}}},
        {"data": {"name": "boxes"}, "transform": [{"filter": {"field": "Eg", "equal": "1.70"}}],
         "mark": {"type": "tick", "orient": "horizontal", "size": 35, "thickness": 2.5, "color": "#222222"},
         "encoding": {"x": {"field": "idx", "type": "quantitative", "axis": null}, "y": {"field": "hi", "type": "quantitative"}}},
        {"data": {"name": "pts"}, "transform": [{"filter": {"and": [{"field": "Eg", "equal": "1.70"}, {"field": "eta", "equal": "0.1"}]}}],
         "mark": {"type": "point", "filled": true, "opacity": 0.85, "size": 360},
         "encoding": {"x": {"field": "pos", "type": "quantitative", "axis": null}, "y": {"field": "val", "type": "quantitative"},
           "color": {"field": "eta", "type": "nominal", "scale": {"domain": ["0.1", "0.3", "0.5", "1"], "range": ["#c4b3ea", "#9d78da", "#6b44c0", "#2f1a6c"]}, "legend": null},
           "shape": {"field": "eta", "type": "nominal", "scale": {"domain": ["0.1", "0.3", "0.5", "1"], "range": ["M-1,-0.82L-0.82,-1L0,-0.18L0.82,-1L1,-0.82L0.18,0L1,0.82L0.82,1L0,0.18L-0.82,1L-1,0.82L-0.18,0Z", "circle", "triangle-up", "diamond"]}, "legend": null}}},
        {"data": {"name": "pts"}, "transform": [{"filter": {"and": [{"field": "Eg", "equal": "1.70"}, {"field": "eta", "equal": "0.3"}]}}],
         "mark": {"type": "point", "filled": true, "opacity": 0.85, "size": 270},
         "encoding": {"x": {"field": "pos", "type": "quantitative", "axis": null}, "y": {"field": "val", "type": "quantitative"},
           "color": {"field": "eta", "type": "nominal", "scale": {"domain": ["0.1", "0.3", "0.5", "1"], "range": ["#c4b3ea", "#9d78da", "#6b44c0", "#2f1a6c"]}, "legend": null},
           "shape": {"field": "eta", "type": "nominal", "scale": {"domain": ["0.1", "0.3", "0.5", "1"], "range": ["M-1,-0.82L-0.82,-1L0,-0.18L0.82,-1L1,-0.82L0.18,0L1,0.82L0.82,1L0,0.18L-0.82,1L-1,0.82L-0.18,0Z", "circle", "triangle-up", "diamond"]}, "legend": null}}},
        {"data": {"name": "pts"}, "transform": [{"filter": {"and": [{"field": "Eg", "equal": "1.70"}, {"field": "eta", "equal": "0.5"}]}}],
         "mark": {"type": "point", "filled": true, "opacity": 0.85, "size": 250},
         "encoding": {"x": {"field": "pos", "type": "quantitative", "axis": null}, "y": {"field": "val", "type": "quantitative"},
           "color": {"field": "eta", "type": "nominal", "scale": {"domain": ["0.1", "0.3", "0.5", "1"], "range": ["#c4b3ea", "#9d78da", "#6b44c0", "#2f1a6c"]}, "legend": null},
           "shape": {"field": "eta", "type": "nominal", "scale": {"domain": ["0.1", "0.3", "0.5", "1"], "range": ["M-1,-0.82L-0.82,-1L0,-0.18L0.82,-1L1,-0.82L0.18,0L1,0.82L0.82,1L0,0.18L-0.82,1L-1,0.82L-0.18,0Z", "circle", "triangle-up", "diamond"]}, "legend": null}}},
        {"data": {"name": "pts"}, "transform": [{"filter": {"and": [{"field": "Eg", "equal": "1.70"}, {"field": "eta", "equal": "1"}]}}],
         "mark": {"type": "point", "filled": true, "opacity": 0.85, "size": 441},
         "encoding": {"x": {"field": "pos", "type": "quantitative", "axis": null}, "y": {"field": "val", "type": "quantitative"},
           "color": {"field": "eta", "type": "nominal", "scale": {"domain": ["0.1", "0.3", "0.5", "1"], "range": ["#c4b3ea", "#9d78da", "#6b44c0", "#2f1a6c"]}, "legend": null},
           "shape": {"field": "eta", "type": "nominal", "scale": {"domain": ["0.1", "0.3", "0.5", "1"], "range": ["M-1,-0.82L-0.82,-1L0,-0.18L0.82,-1L1,-0.82L0.18,0L1,0.82L0.82,1L0,0.18L-0.82,1L-1,0.82L-0.18,0Z", "circle", "triangle-up", "diamond"]}, "legend": null}}},
        {"data": {"name": "boxes"}, "transform": [{"filter": {"field": "Eg", "equal": "1.70"}}],
         "mark": {"type": "tick", "orient": "horizontal", "size": 68, "thickness": 5, "color": "#f39433"},
         "encoding": {"x": {"field": "idx", "type": "quantitative", "axis": null}, "y": {"field": "med", "type": "quantitative"}}},
        {"data": {"name": "boxes"}, "transform": [{"filter": {"field": "Eg", "equal": "1.70"}}],
         "mark": {"type": "text", "fontSize": 51, "fontWeight": "bold", "baseline": "alphabetic", "dy": -56, "color": "#262626", "font": "DejaVu Sans"},
         "encoding": {"x": {"field": "idx", "type": "quantitative", "axis": null}, "y": {"field": "med", "type": "quantitative"}, "text": {"field": "med", "format": ".2f"}}},
        {"data": {"name": "panels"}, "transform": [{"filter": {"field": "Eg", "equal": "1.70"}}],
         "mark": {"type": "text", "fontSize": 53, "fontWeight": "bold", "align": "right", "baseline": "alphabetic", "dx": -24, "color": "#000000", "font": "DejaVu Sans"},
         "encoding": {"x": {"datum": 3.5, "type": "quantitative", "axis": null}, "y": {"datum": 27.95, "type": "quantitative"}, "text": {"field": "txt"}}},
        {"data": {"name": "panels"}, "transform": [{"filter": {"field": "Eg", "equal": "1.70"}}],
         "mark": {"type": "text", "fontSize": 53, "fontStyle": "italic", "align": "left", "baseline": "alphabetic", "dx": -398, "color": "#000000", "font": "DejaVu Sans", "text": "E"},
         "encoding": {"x": {"datum": 3.5, "type": "quantitative", "axis": null}, "y": {"datum": 27.95, "type": "quantitative"}}},
        {"data": {"name": "panels"}, "transform": [{"filter": {"field": "Eg", "equal": "1.70"}}],
         "mark": {"type": "text", "fontSize": 38, "fontStyle": "italic", "align": "left", "baseline": "alphabetic", "dx": -362, "dy": 12, "color": "#000000", "font": "DejaVu Sans", "text": "g"},
         "encoding": {"x": {"datum": 3.5, "type": "quantitative", "axis": null}, "y": {"datum": 27.95, "type": "quantitative"}}}
      ]
    },
    {
      "width": 595, "height": 1302,
      "layer": [
        {"data": {"name": "boxes"}, "transform": [{"filter": {"field": "Eg", "equal": "1.77"}}],
         "mark": {"type": "bar", "width": 70, "fill": "#b0b0b0", "stroke": "#4d4d4d", "strokeWidth": 3},
         "encoding": {
           "x": {"field": "idx", "type": "quantitative", "scale": {"domain": [-0.5, 3.5], "nice": false, "zero": false}, "axis": null},
           "y": {"field": "q1", "type": "quantitative", "scale": {"domain": [0, 30], "nice": false},
                 "axis": {"title": null, "values": [0, 5, 10, 15, 20, 25, 30], "grid": true, "gridOpacity": {"condition": {"test": "datum.value === 0 || datum.value === 30", "value": 0}, "value": 1}, "labels": false}},
           "y2": {"field": "q3"}
         }},
        {"data": {"name": "boxes"}, "transform": [{"filter": {"field": "Eg", "equal": "1.77"}}],
         "mark": {"type": "rule", "strokeWidth": 2, "color": "#222222"},
         "encoding": {"x": {"field": "idx", "type": "quantitative", "axis": null}, "y": {"field": "lo", "type": "quantitative"}, "y2": {"field": "q1"}}},
        {"data": {"name": "boxes"}, "transform": [{"filter": {"field": "Eg", "equal": "1.77"}}],
         "mark": {"type": "rule", "strokeWidth": 2, "color": "#222222"},
         "encoding": {"x": {"field": "idx", "type": "quantitative", "axis": null}, "y": {"field": "q3", "type": "quantitative"}, "y2": {"field": "hi"}}},
        {"data": {"name": "boxes"}, "transform": [{"filter": {"field": "Eg", "equal": "1.77"}}],
         "mark": {"type": "tick", "orient": "horizontal", "size": 35, "thickness": 2.5, "color": "#222222"},
         "encoding": {"x": {"field": "idx", "type": "quantitative", "axis": null}, "y": {"field": "lo", "type": "quantitative"}}},
        {"data": {"name": "boxes"}, "transform": [{"filter": {"field": "Eg", "equal": "1.77"}}],
         "mark": {"type": "tick", "orient": "horizontal", "size": 35, "thickness": 2.5, "color": "#222222"},
         "encoding": {"x": {"field": "idx", "type": "quantitative", "axis": null}, "y": {"field": "hi", "type": "quantitative"}}},
        {"data": {"name": "pts"}, "transform": [{"filter": {"and": [{"field": "Eg", "equal": "1.77"}, {"field": "eta", "equal": "0.1"}]}}],
         "mark": {"type": "point", "filled": true, "opacity": 0.85, "size": 360},
         "encoding": {"x": {"field": "pos", "type": "quantitative", "axis": null}, "y": {"field": "val", "type": "quantitative"},
           "color": {"field": "eta", "type": "nominal", "scale": {"domain": ["0.1", "0.3", "0.5", "1"], "range": ["#c4b3ea", "#9d78da", "#6b44c0", "#2f1a6c"]}, "legend": null},
           "shape": {"field": "eta", "type": "nominal", "scale": {"domain": ["0.1", "0.3", "0.5", "1"], "range": ["M-1,-0.82L-0.82,-1L0,-0.18L0.82,-1L1,-0.82L0.18,0L1,0.82L0.82,1L0,0.18L-0.82,1L-1,0.82L-0.18,0Z", "circle", "triangle-up", "diamond"]}, "legend": null}}},
        {"data": {"name": "pts"}, "transform": [{"filter": {"and": [{"field": "Eg", "equal": "1.77"}, {"field": "eta", "equal": "0.3"}]}}],
         "mark": {"type": "point", "filled": true, "opacity": 0.85, "size": 270},
         "encoding": {"x": {"field": "pos", "type": "quantitative", "axis": null}, "y": {"field": "val", "type": "quantitative"},
           "color": {"field": "eta", "type": "nominal", "scale": {"domain": ["0.1", "0.3", "0.5", "1"], "range": ["#c4b3ea", "#9d78da", "#6b44c0", "#2f1a6c"]}, "legend": null},
           "shape": {"field": "eta", "type": "nominal", "scale": {"domain": ["0.1", "0.3", "0.5", "1"], "range": ["M-1,-0.82L-0.82,-1L0,-0.18L0.82,-1L1,-0.82L0.18,0L1,0.82L0.82,1L0,0.18L-0.82,1L-1,0.82L-0.18,0Z", "circle", "triangle-up", "diamond"]}, "legend": null}}},
        {"data": {"name": "pts"}, "transform": [{"filter": {"and": [{"field": "Eg", "equal": "1.77"}, {"field": "eta", "equal": "0.5"}]}}],
         "mark": {"type": "point", "filled": true, "opacity": 0.85, "size": 250},
         "encoding": {"x": {"field": "pos", "type": "quantitative", "axis": null}, "y": {"field": "val", "type": "quantitative"},
           "color": {"field": "eta", "type": "nominal", "scale": {"domain": ["0.1", "0.3", "0.5", "1"], "range": ["#c4b3ea", "#9d78da", "#6b44c0", "#2f1a6c"]}, "legend": null},
           "shape": {"field": "eta", "type": "nominal", "scale": {"domain": ["0.1", "0.3", "0.5", "1"], "range": ["M-1,-0.82L-0.82,-1L0,-0.18L0.82,-1L1,-0.82L0.18,0L1,0.82L0.82,1L0,0.18L-0.82,1L-1,0.82L-0.18,0Z", "circle", "triangle-up", "diamond"]}, "legend": null}}},
        {"data": {"name": "pts"}, "transform": [{"filter": {"and": [{"field": "Eg", "equal": "1.77"}, {"field": "eta", "equal": "1"}]}}],
         "mark": {"type": "point", "filled": true, "opacity": 0.85, "size": 441},
         "encoding": {"x": {"field": "pos", "type": "quantitative", "axis": null}, "y": {"field": "val", "type": "quantitative"},
           "color": {"field": "eta", "type": "nominal", "scale": {"domain": ["0.1", "0.3", "0.5", "1"], "range": ["#c4b3ea", "#9d78da", "#6b44c0", "#2f1a6c"]}, "legend": null},
           "shape": {"field": "eta", "type": "nominal", "scale": {"domain": ["0.1", "0.3", "0.5", "1"], "range": ["M-1,-0.82L-0.82,-1L0,-0.18L0.82,-1L1,-0.82L0.18,0L1,0.82L0.82,1L0,0.18L-0.82,1L-1,0.82L-0.18,0Z", "circle", "triangle-up", "diamond"]}, "legend": null}}},
        {"data": {"name": "boxes"}, "transform": [{"filter": {"field": "Eg", "equal": "1.77"}}],
         "mark": {"type": "tick", "orient": "horizontal", "size": 68, "thickness": 5, "color": "#f39433"},
         "encoding": {"x": {"field": "idx", "type": "quantitative", "axis": null}, "y": {"field": "med", "type": "quantitative"}}},
        {"data": {"name": "boxes"}, "transform": [{"filter": {"field": "Eg", "equal": "1.77"}}],
         "mark": {"type": "text", "fontSize": 51, "fontWeight": "bold", "baseline": "alphabetic", "dy": -56, "color": "#262626", "font": "DejaVu Sans"},
         "encoding": {"x": {"field": "idx", "type": "quantitative", "axis": null}, "y": {"field": "med", "type": "quantitative"}, "text": {"field": "med", "format": ".2f"}}},
        {"data": {"name": "panels"}, "transform": [{"filter": {"field": "Eg", "equal": "1.77"}}],
         "mark": {"type": "text", "fontSize": 53, "fontWeight": "bold", "align": "right", "baseline": "alphabetic", "dx": -24, "color": "#000000", "font": "DejaVu Sans"},
         "encoding": {"x": {"datum": 3.5, "type": "quantitative", "axis": null}, "y": {"datum": 27.95, "type": "quantitative"}, "text": {"field": "txt"}}},
        {"data": {"name": "panels"}, "transform": [{"filter": {"field": "Eg", "equal": "1.77"}}],
         "mark": {"type": "text", "fontSize": 53, "fontStyle": "italic", "align": "left", "baseline": "alphabetic", "dx": -398, "color": "#000000", "font": "DejaVu Sans", "text": "E"},
         "encoding": {"x": {"datum": 3.5, "type": "quantitative", "axis": null}, "y": {"datum": 27.95, "type": "quantitative"}}},
        {"data": {"name": "panels"}, "transform": [{"filter": {"field": "Eg", "equal": "1.77"}}],
         "mark": {"type": "text", "fontSize": 38, "fontStyle": "italic", "align": "left", "baseline": "alphabetic", "dx": -362, "dy": 12, "color": "#000000", "font": "DejaVu Sans", "text": "g"},
         "encoding": {"x": {"datum": 3.5, "type": "quantitative", "axis": null}, "y": {"datum": 27.95, "type": "quantitative"}}}
      ]
    }
  ],
  "config": {
    "font": "DejaVu Sans",
    "view": {"stroke": "#333333", "strokeWidth": 2.5},
    "axis": {"gridDash": [6, 4], "gridColor": "#dddddd", "gridWidth": 1.2, "tickColor": "#333333", "tickSize": 12, "tickWidth": 2, "labelFont": "DejaVu Sans", "labelFontSize": 44, "labelFontWeight": "bold", "labelColor": "#111111", "labelPadding": 9, "domain": false},
    "legend": {"fillColor": "rgba(255,255,255,0.85)", "strokeColor": "#cccccc", "cornerRadius": 8, "padding": 38, "symbolOffset": 15,
               "symbolSize": 1000, "symbolOpacity": 1, "symbolStrokeWidth": 0,
               "labelFont": "DejaVu Sans", "labelFontSize": 36, "labelColor": "#000000", "labelOffset": 64, "labelLimit": 400,
               "titleFont": "DejaVu Sans", "titleFontSize": 36, "titleFontStyle": "italic", "titleFontWeight": "normal", "titleColor": "#000000",
               "titlePadding": 30, "titleAnchor": "middle", "rowPadding": 33}
  }
}
